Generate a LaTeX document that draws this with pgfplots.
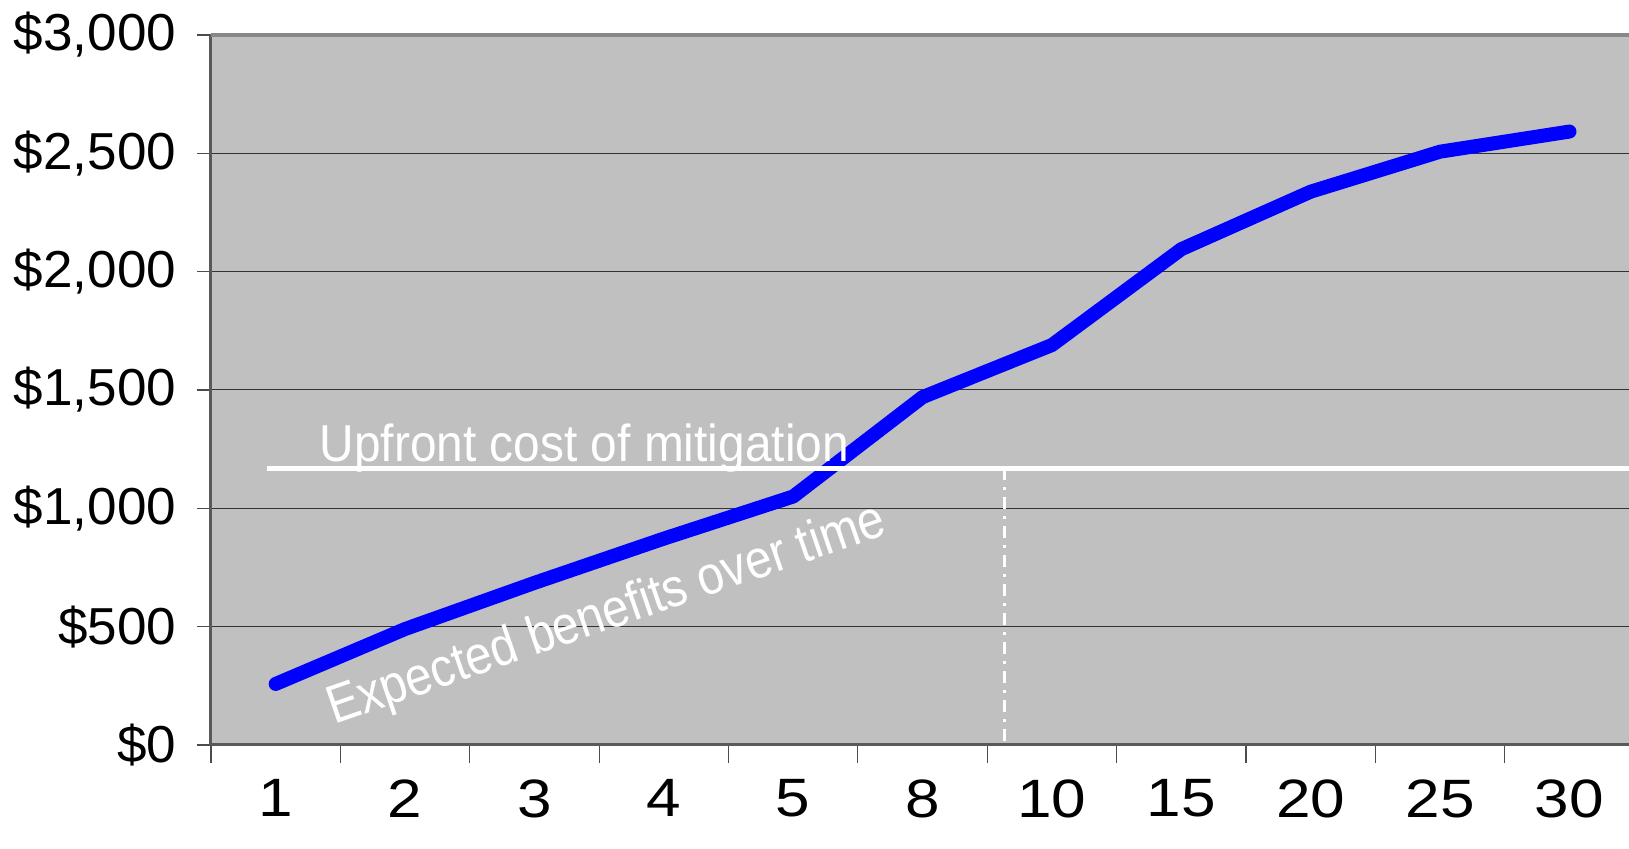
\documentclass[border=0pt]{standalone}
\usepackage{pgfplots}
\pgfplotsset{compat=1.18}
\usepackage{fontspec}
\setmainfont{Liberation Sans}
\definecolor{plotbg}{HTML}{C0C0C0}
\definecolor{lineblue}{HTML}{0000FF}
\definecolor{bordergray}{HTML}{888888}
\begin{document}
\begin{tikzpicture}
\begin{axis}[
  scale only axis, width=709pt, height=355pt,
  xmin=-0.5, xmax=10.46, ymin=0, ymax=3000,
  axis x line*=bottom, axis y line*=left,
  axis line style={draw=black!65, line width=1.5pt},
  axis background/.style={fill=plotbg},
  clip=false,
  xtick={0,...,10},
  xticklabels={1,2,3,4,5,8,10,15,20,25,30},
  minor xtick={-0.5,0.5,...,9.5},
  major x tick style={draw=none},
  minor x tick style={draw=black!70, line width=0.6pt},
  minor tick length=9pt,
  ytick={0,500,...,3000},
  yticklabels={{\$0},{\$500},{\$1,000},{\$1,500},{\$2,000},{\$2,500},{\$3,000}},
  y tick style={draw=black!70, line width=0.6pt},
  major tick length=7pt,
  tick align=outside,
  ymajorgrids, major grid style={black!80, line width=0.5pt},
  x tick label style={font=\fontsize{27}{30}\selectfont, xscale=1.15, anchor=north, inner sep=0pt, yshift=-10pt},
  y tick label style={font=\fontsize{26}{30}\selectfont, xscale=1.02, anchor=east, inner sep=0pt, xshift=-10pt},
]
\addplot[lineblue, line width=7pt, line cap=round, line join=round] coordinates {
(0,258)(1,490)(2,685)(3,872)(4,1050)(5,1470)(6,1690)(7,2095)(8,2338)(9,2507)(10,2592)};
\addplot[white, line width=2.5pt] coordinates {(-0.07,1170)(10.46,1170)};
\addplot[white, line width=1.5pt, dash pattern=on 6pt off 3.5pt on 1.5pt off 3.5pt] coordinates {(5.63,1170)(5.63,0)};
\draw[bordergray, line width=2pt] (rel axis cs:0,1) -- (rel axis cs:1,1);
\node[anchor=base west, inner sep=0pt, text=white, xscale=0.92, font=\fontsize{26}{30}\selectfont] at (axis cs:0.338,1197) {Upfront cost of mitigation};
\node[anchor=base west, inner sep=0pt, text=white, rotate=19, xscale=0.88, font=\fontsize{27}{30}\selectfont] at (axis cs:0.45,85) {Expected benefits over time};
\end{axis}
\pgfresetboundingbox
\path[use as bounding box] ([shift={(-105.5pt,-52pt)}]current axis.south west) rectangle ([shift={(0pt,17.5pt)}]current axis.north east);
\end{tikzpicture}
\end{document}
